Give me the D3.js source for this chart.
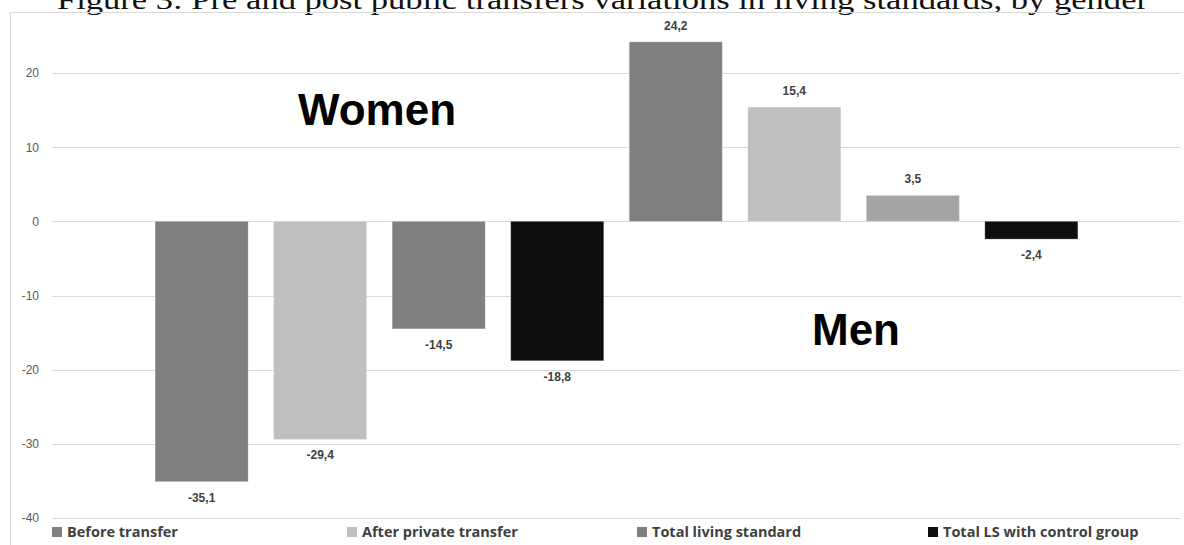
<!DOCTYPE html>
<html>
<head>
<meta charset="utf-8">
<script src="https://cdn.jsdelivr.net/npm/d3@7"></script>
<style>
  html, body { margin: 0; padding: 0; background: #fff; }
  svg { display: block; }
</style>
</head>
<body>
<svg id="chart" width="1184" height="545"></svg>
<script>
// Variations in living standards (%) by transfer stage, women then men
const categories = ["W-before", "W-private", "W-total", "W-control", "M-before", "M-private", "M-total", "M-control"];
const values = [-35.1, -29.4, -14.5, -18.8, 24.2, 15.4, 3.5, -2.4];
const barColors = ["#7f7f7f", "#bfbfbf", "#808080", "#0d0d0d", "#7f7f7f", "#bfbfbf", "#a5a5a5", "#0d0d0d"];
const yTicks = [-40, -30, -20, -10, 0, 10, 20];
const legendLabels = ["Before transfer", "After private transfer", "Total living standard", "Total LS with control group"];
const legendColors = ["#7f7f7f", "#bfbfbf", "#808080", "#0d0d0d"];
const groupLabels = ["Women", "Men"];
const titleText = "Figure 3: Pre and post public transfers variations in living standards, by gender";

const svg = d3.select("#chart");

// Title (sits partly above the visible area)
svg.append("text")
  .attr("x", 57).attr("y", 8.5)
  .attr("font-family", "'Liberation Serif', 'DejaVu Serif', serif")
  .attr("font-size", 28)
  .attr("fill", "#111")
  .attr("textLength", 1091)
  .attr("lengthAdjust", "spacingAndGlyphs")
  .text(titleText);

// Chart frame
svg.append("rect")
  .attr("x", 10.5).attr("y", 12.5)
  .attr("width", 1200).attr("height", 600)
  .attr("fill", "none")
  .attr("stroke", "#d9d9d9");

const x = d3.scaleBand()
  .domain(categories)
  .range([52, 1181])
  .paddingInner(0.215)
  .paddingOuter(0.87);

const y = d3.scaleLinear()
  .domain([-40, 20])
  .range([518, 73]);

// Plain hyphen for negatives, comma as decimal mark
const hyphen = s => s.replace("\u2212", "-");
const fmt = v => hyphen(d3.format(".1f")(v)).replace(".", ",");

// Gridlines and tick labels via the axis generator
const yAxis = d3.axisLeft(y)
  .tickValues(yTicks)
  .tickFormat(d => hyphen(d3.format("d")(d)))
  .tickSize(-(1181 - 52))
  .tickPadding(13);

const axisG = svg.append("g")
  .attr("transform", "translate(52,0)")
  .call(yAxis);
axisG.select(".domain").remove();
axisG.selectAll(".tick line")
  .attr("stroke", "#d9d9d9")
  .attr("stroke-width", 1)
  .attr("shape-rendering", "crispEdges");
axisG.selectAll(".tick text")
  .attr("font-family", "'Liberation Sans', Arial, sans-serif")
  .attr("font-size", 12)
  .attr("fill", "#595959");

// Bars
svg.append("g").selectAll("rect")
  .data(values)
  .join("rect")
  .attr("x", (d, i) => x(categories[i]))
  .attr("width", x.bandwidth())
  .attr("y", d => y(Math.max(0, d)))
  .attr("height", d => Math.abs(y(d) - y(0)))
  .attr("fill", (d, i) => barColors[i])
  .attr("stroke", "rgba(255,255,255,0.25)")
  .attr("stroke-width", 1);

// Value labels
svg.append("g").selectAll("text")
  .data(values)
  .join("text")
  .attr("x", (d, i) => x(categories[i]) + x.bandwidth() / 2)
  .attr("y", d => d >= 0 ? y(d) - 12 : y(d) + 20)
  .attr("text-anchor", "middle")
  .attr("font-family", "'Liberation Sans', Arial, sans-serif")
  .attr("font-weight", "bold")
  .attr("font-size", 12)
  .attr("fill", "#404040")
  .text(d => fmt(d));

// Group labels
const groupPos = [[298, 125], [812, 345]];
svg.append("g").selectAll("text")
  .data(groupLabels)
  .join("text")
  .attr("x", (d, i) => groupPos[i][0])
  .attr("y", (d, i) => groupPos[i][1])
  .attr("font-family", "'Liberation Sans', Arial, sans-serif")
  .attr("font-weight", "bold")
  .attr("font-size", 44)
  .attr("fill", "#000")
  .text(d => d);

// Legend
const legendX = [52, 347, 637, 928];
const leg = svg.append("g").selectAll("g")
  .data(legendLabels)
  .join("g")
  .attr("transform", (d, i) => `translate(${legendX[i]},537)`);
leg.append("rect")
  .attr("x", 0).attr("y", -10)
  .attr("width", 10).attr("height", 10)
  .attr("fill", (d, i) => legendColors[i]);
leg.append("text")
  .attr("x", 15).attr("y", 0)
  .attr("font-family", "'Open Sans', 'Liberation Sans', sans-serif")
  .attr("font-weight", "bold")
  .attr("font-size", 14.5)
  .attr("fill", "#404040")
  .text(d => d);
</script>
</body>
</html>
